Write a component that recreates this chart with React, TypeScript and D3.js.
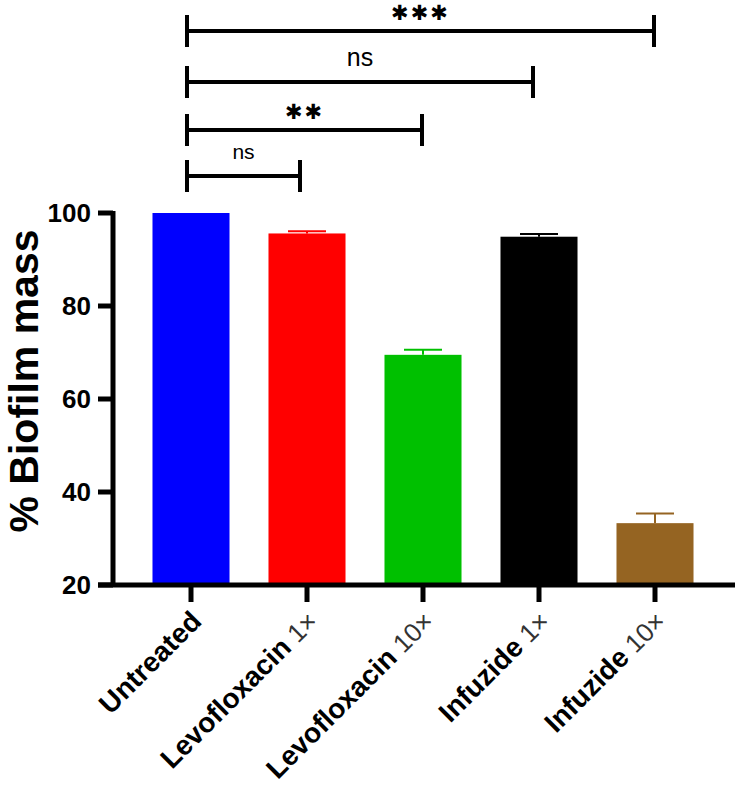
import * as d3 from "d3";

const WIDTH = 735;
const HEIGHT = 787;

// groups, bar means and the upper end of each error bar (% biofilm mass)
const groups = ["Untreated", "Levofloxacin", "Levofloxacin", "Infuzide", "Infuzide"];
const doses = ["", "1×", "10×", "1×", "10×"];
const means = [100, 95.6, 69.5, 94.9, 33.3];
const errTops = [100, 96.1, 70.6, 95.5, 35.4];
const colors = ["#0000ff", "#ff0000", "#00c000", "#000000", "#956422"];
const yTicks = [20, 40, 60, 80, 100];

// pairwise comparisons vs. untreated (index of second group, label)
const compareTo = [1, 2, 3, 4];
const compareLabels = ["ns", "**", "ns", "***"];

const FONT = "'Liberation Sans', Arial, Helvetica, sans-serif";

export default function App() {
  const keys = groups.map((g, i) => `${i}`);

  const x = d3
    .scaleBand<string>()
    .domain(keys)
    .range([133, 713])
    .paddingInner(0.336)
    .paddingOuter(0.168);

  const y = d3.scaleLinear().domain([20, 100]).range([585, 213]);

  const axisX = 113;
  const axisY = y(20);
  const cx = (i: number) => (x(keys[i]) ?? 0) + x.bandwidth() / 2;

  // bracket rows, from the lowest (shortest) to the top one
  const bracketY = [176, 130, 82, 31];
  const half = 16;

  return (
    <svg
      width={WIDTH}
      height={HEIGHT}
      style={{ position: "absolute", left: 0, top: 0, background: "#fff" }}
      fontFamily={FONT}
    >
      {/* bars */}
      {means.map((m, i) => (
        <rect
          key={`bar-${i}`}
          x={x(keys[i])}
          y={y(m)}
          width={x.bandwidth()}
          height={axisY - y(m)}
          fill={colors[i]}
        />
      ))}

      {/* upper error bars */}
      {errTops.map((e, i) =>
        e > means[i] ? (
          <g key={`err-${i}`} stroke={colors[i]} strokeWidth={2}>
            <line x1={cx(i)} x2={cx(i)} y1={y(means[i])} y2={y(e)} />
            <line x1={cx(i) - 19} x2={cx(i) + 19} y1={y(e)} y2={y(e)} />
          </g>
        ) : null
      )}

      {/* y axis */}
      <line x1={axisX} x2={axisX} y1={y(100) - 2} y2={axisY} stroke="#000" strokeWidth={5} />
      {yTicks.map((t) => (
        <g key={`yt-${t}`}>
          <line x1={98} x2={axisX} y1={y(t)} y2={y(t)} stroke="#000" strokeWidth={5} />
          <text
            x={91}
            y={y(t)}
            dy="0.36em"
            textAnchor="end"
            fontSize={26}
            fontWeight="bold"
          >
            {t}
          </text>
        </g>
      ))}
      <text
        transform={`translate(38,381) rotate(-90)`}
        textAnchor="middle"
        fontSize={41}
        fontWeight="bold"
      >
        % Biofilm mass
      </text>

      {/* x axis */}
      <line x1={98} x2={WIDTH} y1={axisY} y2={axisY} stroke="#000" strokeWidth={5} />
      {keys.map((k, i) => (
        <g key={`xt-${k}`}>
          <line x1={cx(i)} x2={cx(i)} y1={axisY} y2={axisY + 17} stroke="#000" strokeWidth={5} />
          <text
            transform={`translate(${cx(i) + 12},${axisY + 38}) rotate(-45)`}
            textAnchor="end"
            fontSize={28}
            fontWeight="bold"
          >
            {groups[i]}
            {doses[i] && (
              <tspan fontWeight="normal" fill="#333" fontSize={26}>
                {" " + doses[i]}
              </tspan>
            )}
          </text>
        </g>
      ))}

      {/* significance brackets */}
      {compareTo.map((j, r) => {
        const x1 = cx(0) - 4;
        const x2 = cx(j) - (j === 1 ? 7 : j === 3 ? 6 : 1);
        const by = bracketY[r];
        const label = compareLabels[r];
        const isStar = label.includes("*");
        return (
          <g key={`br-${r}`}>
            <g stroke="#000" strokeWidth={4}>
              <line x1={x1} x2={x2} y1={by} y2={by} />
              <line x1={x1} x2={x1} y1={by - half} y2={by + half} />
              <line x1={x2} x2={x2} y1={by - half} y2={by + half} />
            </g>
            <text
              x={(x1 + x2) / 2}
              y={isStar ? by - 11 : by - (r === 0 ? 17 : 16)}
              textAnchor="middle"
              fontSize={isStar ? 21 : r === 0 ? 21 : 25}
              fontFamily={isStar ? "'DejaVu Sans', sans-serif" : FONT}
              letterSpacing={isStar ? 2 : 0}
            >
              {isStar ? label.replace(/\*/g, "✱") : label}
            </text>
          </g>
        );
      })}
    </svg>
  );
}
